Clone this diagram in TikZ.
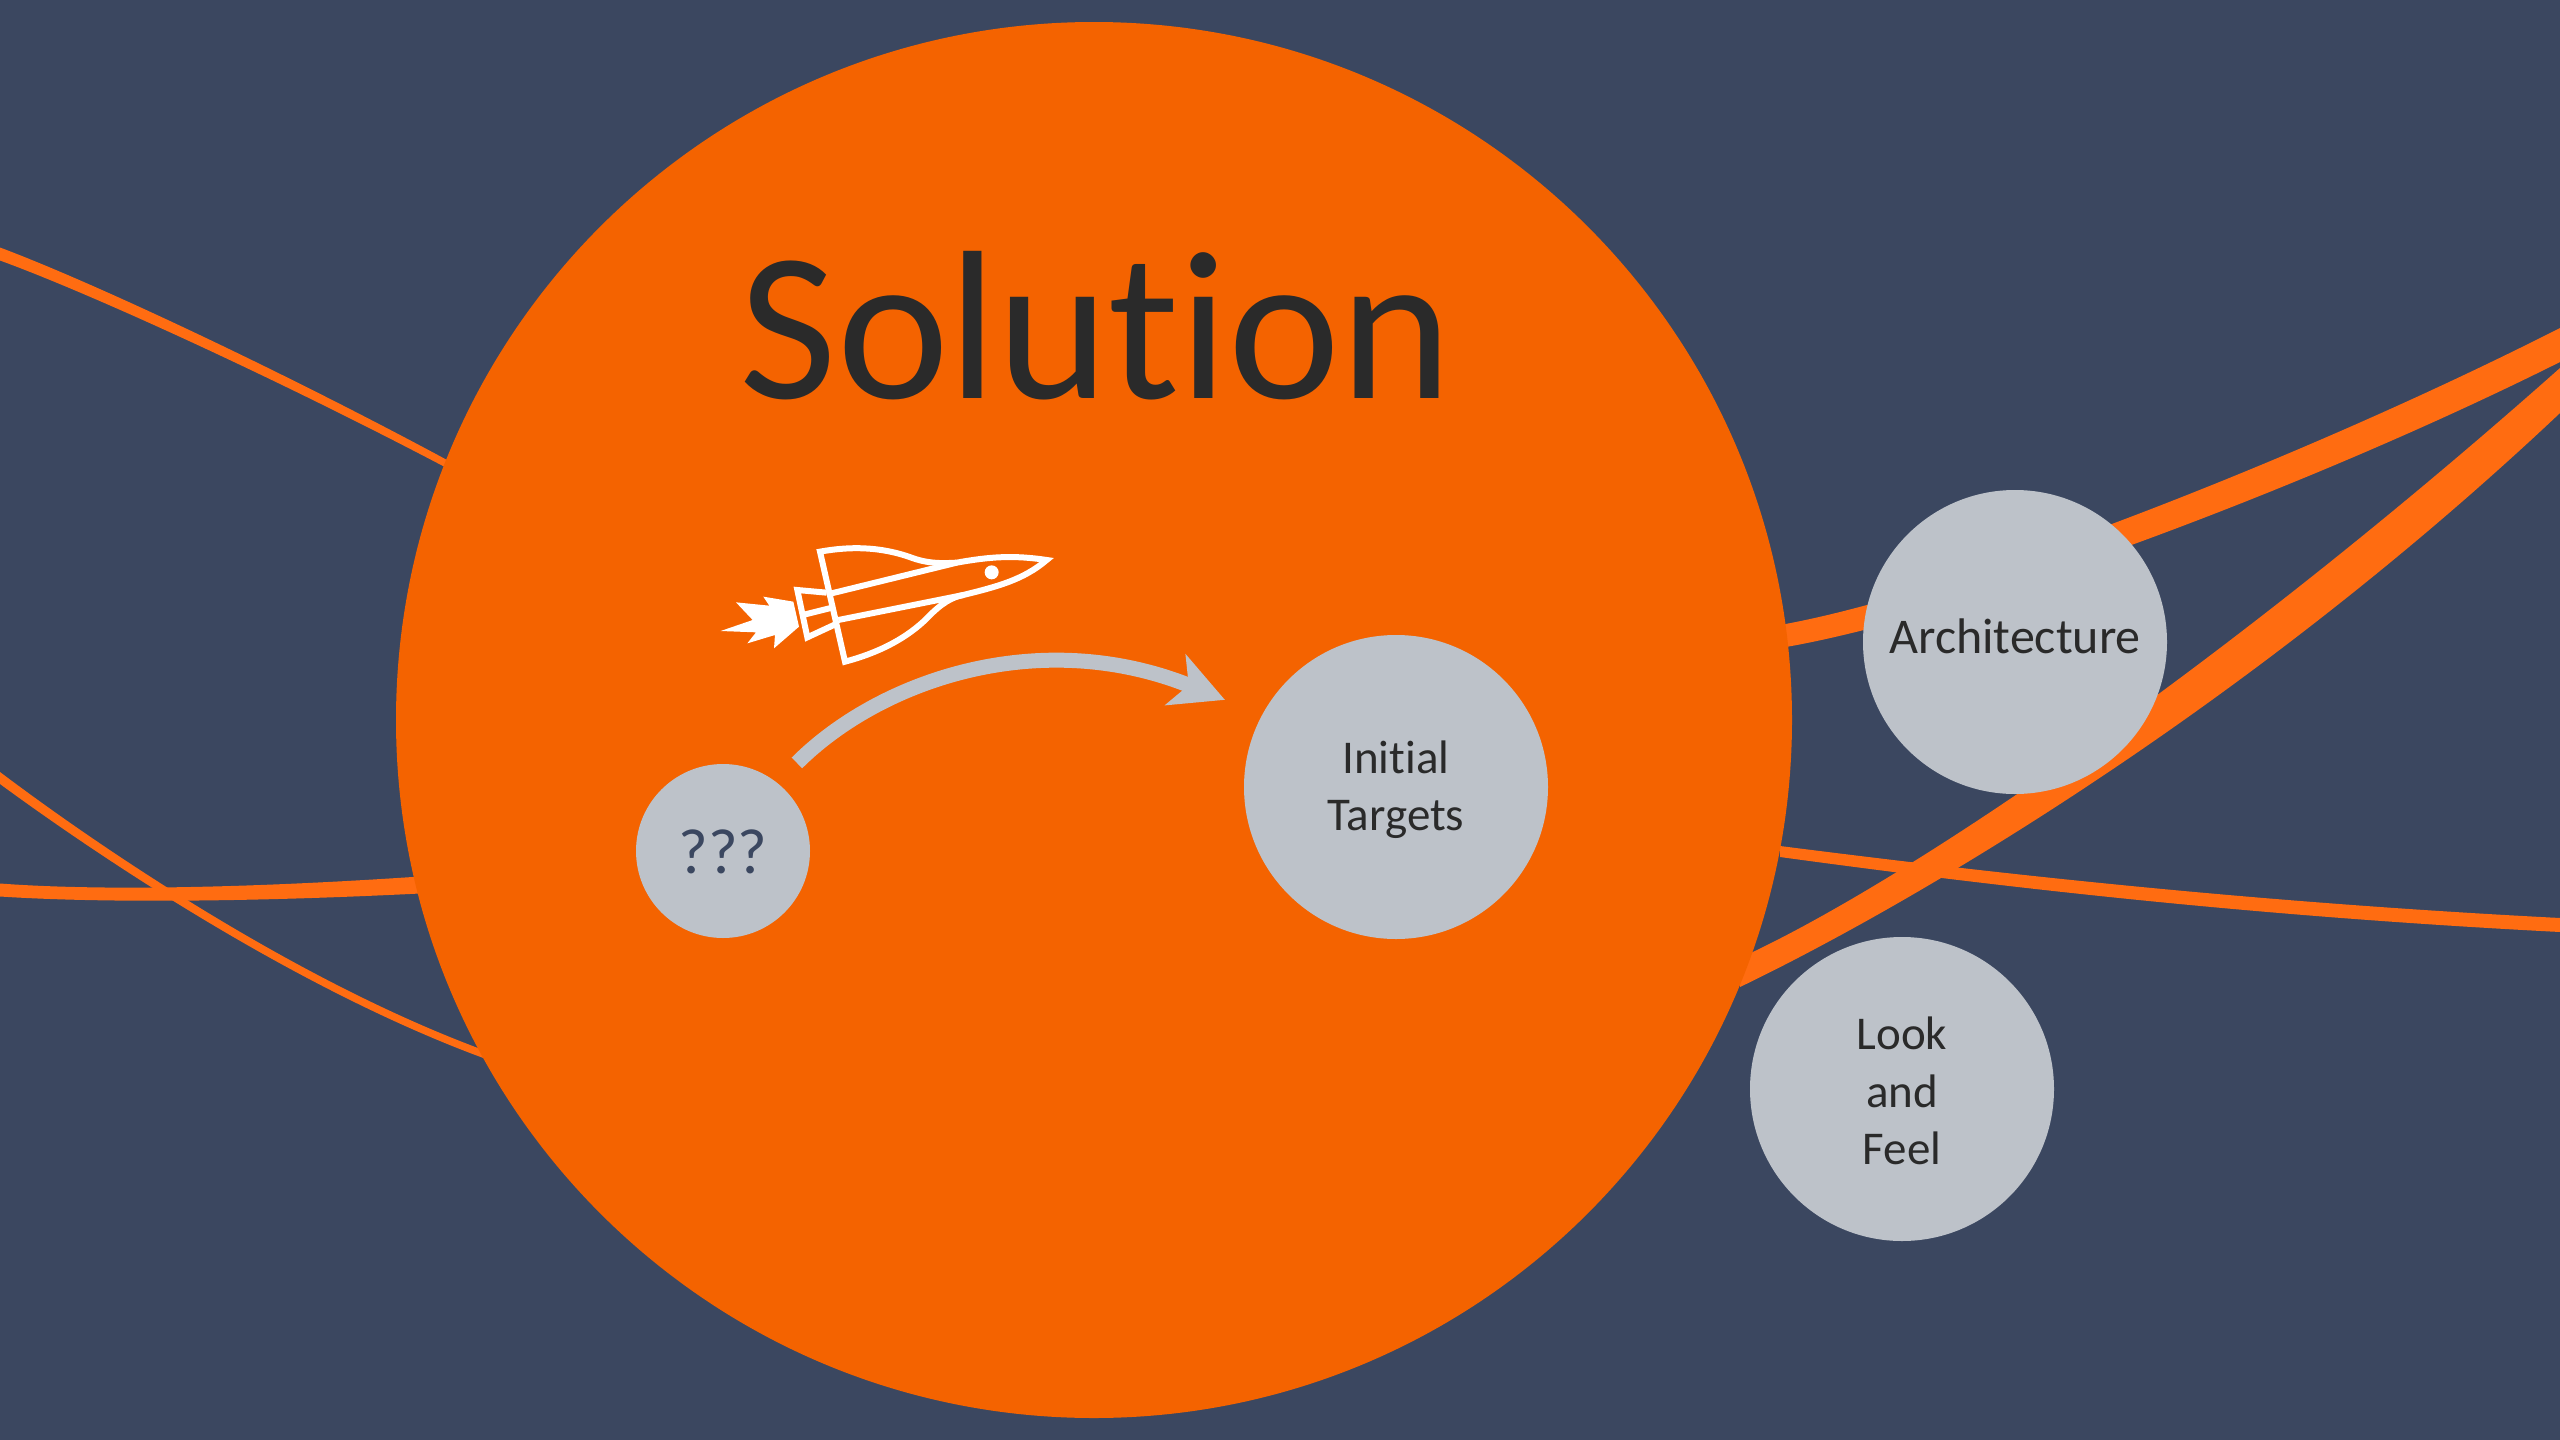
\documentclass[tikz,border=0pt]{standalone}
\usepackage{fontspec}
\setmainfont{Carlito}[Ligatures=NoCommon]
\usetikzlibrary{arrows.meta}
\definecolor{bgblue}{HTML}{3B4760}
\definecolor{bigorange}{HTML}{F46300}
\definecolor{lineorange}{HTML}{FF6C11}
\definecolor{softgrey}{HTML}{BDC2C9}
\definecolor{inkdark}{HTML}{2A2A2A}
\newcommand{\nudged}[2]{\raisebox{#1}[\height][\depth]{\begin{tabular}{@{}c@{}}#2\end{tabular}}}
\tikzset{
  ribbon/.style={fill=lineorange,draw=none},
  bubble/.style={circle,fill=softgrey,draw=none,text=inkdark,minimum size=304pt,inner sep=0pt,align=center,
    font=\fontsize{47}{57.5}\selectfont},
  rocketline/.style={draw=white,line width=6pt,line join=miter,fill=none},
}
\begin{document}
\begin{tikzpicture}[x=1pt,y=-1pt]
\useasboundingbox (0,0) rectangle (2560,1440);
\fill[bgblue] (0,0) rectangle (2560,1440);
% ribbons
\fill[ribbon] (0,247.5) .. controls (100,285) and (300,380) .. (460,467) -- (460,475) .. controls (300,390) and (100,297) .. (0,260.5) -- cycle;
\fill[ribbon] (0,772) .. controls (90,840) and (300,986) .. (500,1056) -- (500,1064) .. controls (300,994) and (90,850) .. (0,784) -- cycle;
\fill[ribbon] (0,883.5) .. controls (100,891) and (250,888) .. (420,876.5) -- (420,893.5) .. controls (250,902) and (100,903) .. (0,896.5) -- cycle;
\fill[ribbon] (1780,625) .. controls (1950,595) and (2300,460) .. (2560,328) -- (2560,362) .. controls (2300,492) and (1950,620) .. (1780,648) -- cycle;
\fill[ribbon] (1740,958) .. controls (1900,885) and (2220,670) .. (2560,368) -- (2560,413) .. controls (2240,715) and (1900,910) .. (1740,987) -- cycle;
\fill[ribbon] (1780,846) .. controls (2000,874) and (2250,902) .. (2560,918) -- (2560,932) .. controls (2250,916) and (2000,887) .. (1780,857) -- cycle;
% main circle
\node[circle,fill=bigorange,draw=none,minimum size=1396pt,inner sep=0pt] (sun) at (1094,720) {};
\node[text=inkdark,font=\fontsize{212}{212}\selectfont,anchor=base] (title) at (1096,398) {Solution};
% bubbles
\node[bubble,font=\fontsize{50}{57.5}\selectfont] (arch) at (2015,642) {\nudged{0pt}{Architecture}};
\node[bubble] (look) at (1902,1089) {\nudged{-6.5pt}{Look\\and\\Feel}};
\node[bubble,outer sep=40pt] (targets) at (1396,787) {\nudged{-3.5pt}{Initial\\Targets}};
\node[bubble,minimum size=174pt,outer sep=28pt,text=bgblue,font=\fontsize{64}{64}\selectfont] (q) at (723,851) {\nudged{-10pt}{???}};
% arrow
\draw[softgrey,line width=15pt,-{Stealth[length=53pt,width=54pt,inset=14pt]}]
  (q.50.6) .. controls (880,680) and (1040,625) .. (targets.153);
% rocket
\begin{scope}[shift={(680,500)},x=0.33333pt,y=-0.33333pt]
  \draw[rocketline] (1100,180) .. controls (1030,240) and (950,260) .. (850,285)
     .. controls (800,295) and (770,325) .. (730,365)
     .. controls (670,420) and (590,460) .. (495,485)
     -- (420,155)
     .. controls (530,135) and (620,145) .. (700,175)
     .. controls (750,192) and (790,190) .. (830,188)
     .. controls (930,170) and (1000,165) .. (1100,180) -- cycle;
  \draw[rocketline] (455,280) -- (830,188);
  \draw[rocketline] (475,360) -- (850,285);
  \draw[rocketline] (440,278) -- (352,270) -- (382,412) -- (468,372);
  \draw[rocketline] (368,345) -- (460,322);
  \fill[white] (340,305) -- (250,290) -- (268,317) -- (168,307) -- (218,360) -- (122,393) -- (228,397) -- (202,430) -- (285,405) -- (282,445) -- (357,380) -- cycle;
  \fill[white] (935,217) circle (21);
\end{scope}
\end{tikzpicture}
\end{document}
